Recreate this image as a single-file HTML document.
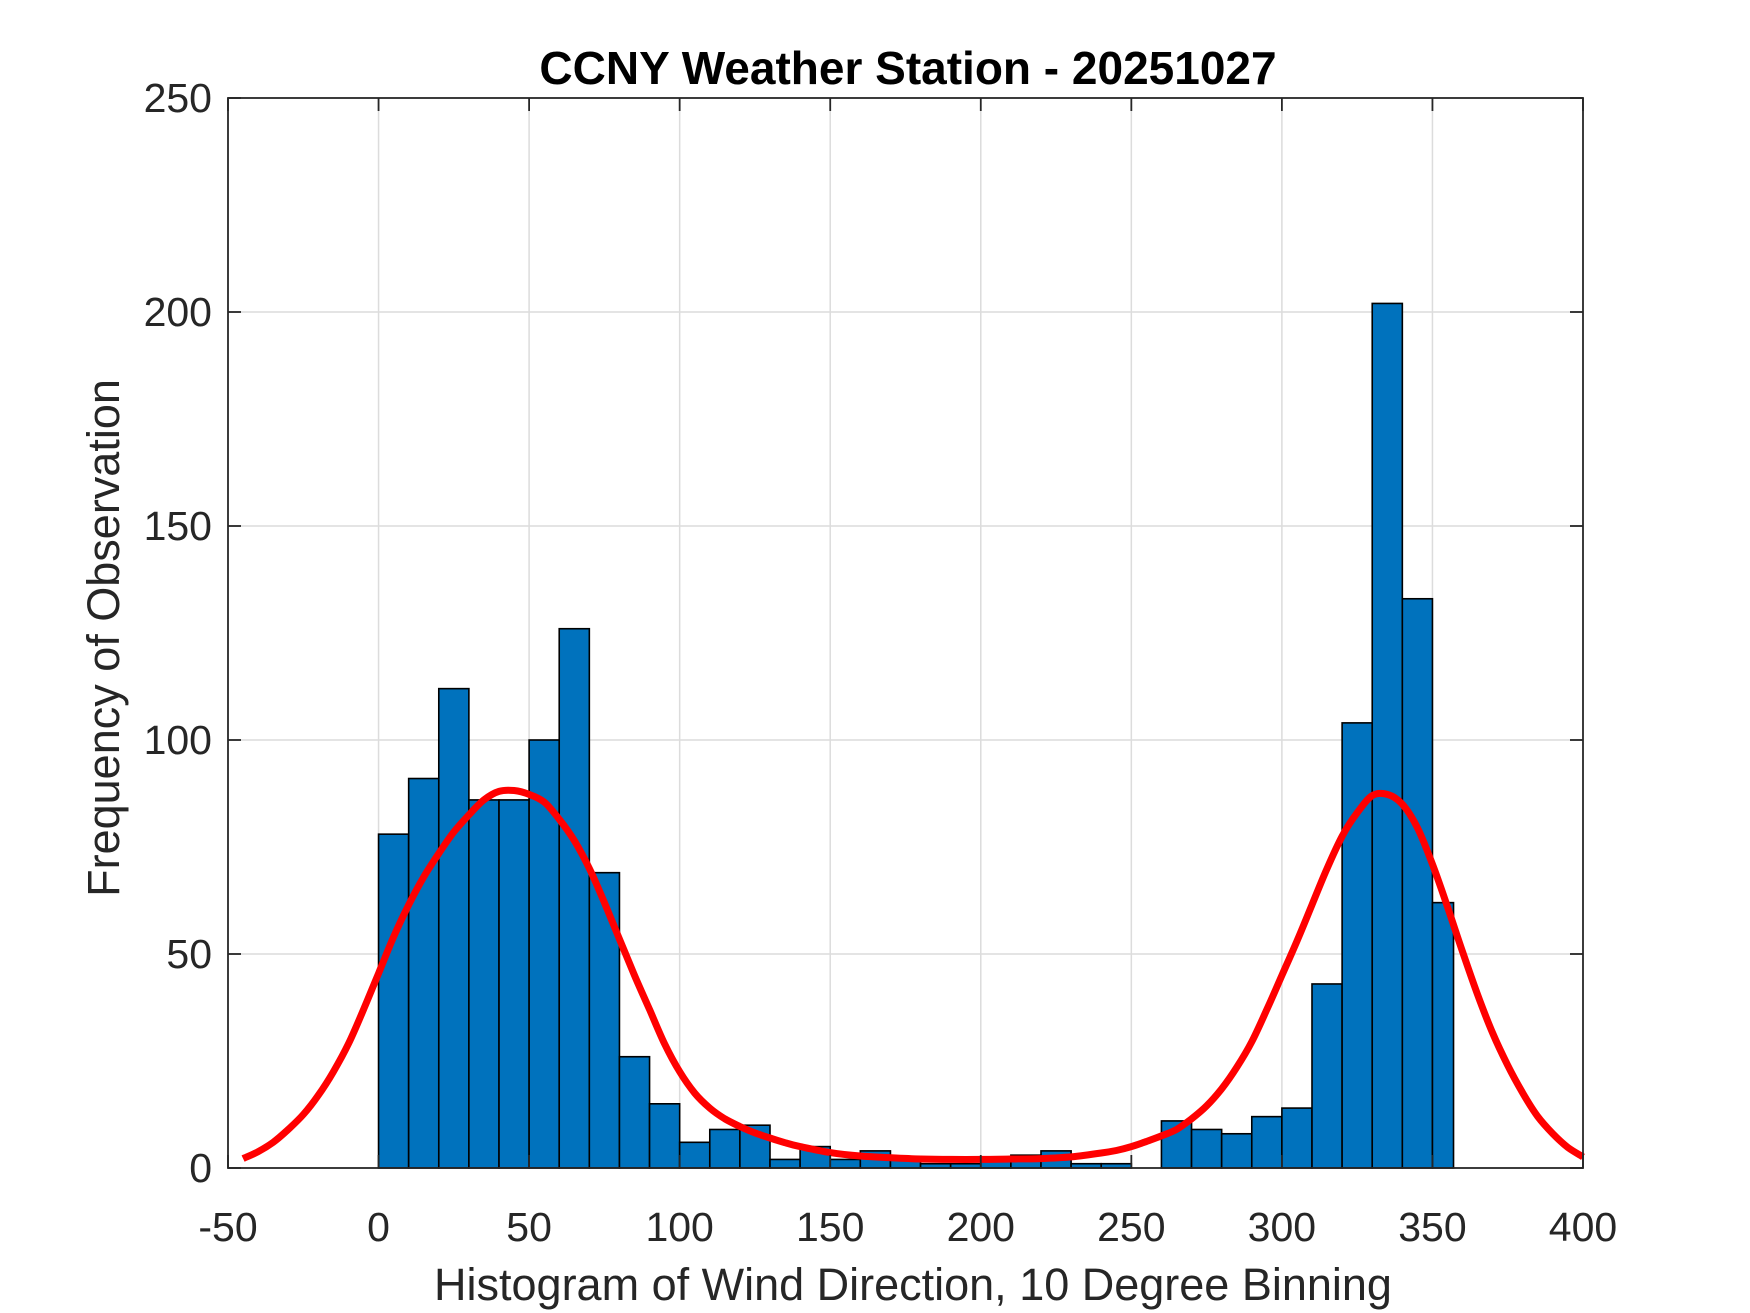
<!DOCTYPE html>
<html><head><meta charset="utf-8"><style>
html,body{margin:0;padding:0;background:#fff;}
svg{display:block;font-family:"Liberation Sans",Arial,sans-serif;}
</style></head><body>
<svg id="chart" width="1750" height="1313" viewBox="0 0 1750 1313" xmlns="http://www.w3.org/2000/svg">
<rect width="1750" height="1313" fill="#fff"/>
<g id="grid"></g>
<g id="bars"></g>
<g id="curve"></g>
<g id="axes"></g>
<text x="908" y="84" text-anchor="middle" font-size="46" font-weight="bold" fill="#000">CCNY Weather Station - 20251027</text>
<text x="913" y="1300" text-anchor="middle" font-size="45" fill="#262626">Histogram of Wind Direction, 10 Degree Binning</text>
<text transform="translate(119,638) rotate(-90)" text-anchor="middle" font-size="45" fill="#262626">Frequency of Observation</text>
</svg>
<script>
const binEdges = [0,10,20,30,40,50,60,70,80,90,100,110,120,130,140,150,160,170,180,190,200,210,220,230,240,250,260,270,280,290,300,310,320,330,340,350,357];
const binCounts = [78,91,112,86,86,100,126,69,26,15,6,9,10,2,5,2,4,2,1,1,2,3,4,1,1,0,11,9,8,12,14,43,104,202,133,62];
const curveX = [-45,-40,-35,-30,-25,-20,-15,-10,-5,0,5,10,15,20,25,30,35,40,45,50,55,60,65,70,75,80,85,90,95,100,105,110,115,120,125,130,135,140,150,160,170,180,190,200,210,220,230,240,245,250,255,260,265,270,275,280,285,290,295,300,305,310,315,320,325,330,335,340,345,350,355,360,365,370,375,380,385,390,395,400];
const curveY = [2.2,3.8,6,9,12.5,17,22.5,29,37,45.5,54,61.5,68,73.5,78.5,82.5,86,88,88.2,87.3,85.5,81.5,76.5,70,62,53.5,45,37,29,22.5,17.5,14,11.5,9.7,8.2,7,5.9,5,3.6,2.8,2.4,2.1,2,2,2.1,2.2,2.6,3.5,4.1,5,6.2,7.5,9,11.5,14.5,18.5,23.5,29.5,37,45,53,61.5,70,77.5,83,87,87.3,85,79.5,71,61,50.5,40.5,31.5,24,17.5,12,8,4.8,2.6];
const xTicks = [-50,0,50,100,150,200,250,300,350,400];
const yTicks = [0,50,100,150,200,250];

const L=228,R=1583,T=98,B=1168,XMIN=-50,XMAX=400,YMIN=0,YMAX=250;
const sx=v=>L+(v-XMIN)/(XMAX-XMIN)*(R-L);
const sy=v=>B-(v-YMIN)/(YMAX-YMIN)*(B-T);
const NS='http://www.w3.org/2000/svg';
function mk(tag,attrs,parent){const e=document.createElementNS(NS,tag);for(const k in attrs)e.setAttribute(k,attrs[k]);parent.appendChild(e);return e;}
const grid=document.getElementById('grid'),bars=document.getElementById('bars'),curve=document.getElementById('curve'),axes=document.getElementById('axes');

xTicks.forEach(t=>{
  if(t>XMIN&&t<XMAX){const g=mk('line',{x1:sx(t),x2:sx(t),y1:T,y2:B,stroke:'#dcdcdc','stroke-width':1.5},grid);
  
  }
});
yTicks.forEach(t=>{
  if(t>YMIN&&t<YMAX){const g=mk('line',{x1:L,x2:R,y1:sy(t),y2:sy(t),stroke:'#dcdcdc','stroke-width':1.5},grid);
  
  }
});

binCounts.forEach((c,i)=>{
  if(c<=0)return;
  const x0=sx(binEdges[i]),x1=sx(binEdges[i+1]);
  const r=mk('rect',{x:x0,y:sy(c),width:x1-x0,height:sy(0)-sy(c),fill:'#0072bd',stroke:'#000','stroke-width':1.6},bars);
  
  
});

const P=curveX.map((x,i)=>[sx(x),sy(curveY[i])]);
let d='M'+P[0][0].toFixed(1)+','+P[0][1].toFixed(1);
for(let i=0;i<P.length-1;i++){
  const p0=P[i-1]||P[i],p1=P[i],p2=P[i+1],p3=P[i+2]||P[i+1];
  const c1=[p1[0]+(p2[0]-p0[0])/6,p1[1]+(p2[1]-p0[1])/6];
  const c2=[p2[0]-(p3[0]-p1[0])/6,p2[1]-(p3[1]-p1[1])/6];
  d+=' C'+c1[0].toFixed(1)+','+c1[1].toFixed(1)+' '+c2[0].toFixed(1)+','+c2[1].toFixed(1)+' '+p2[0].toFixed(1)+','+p2[1].toFixed(1);
}
const pl=mk('path',{d:d,fill:'none',stroke:'#ff0000','stroke-width':7,'stroke-linejoin':'round','stroke-linecap':'butt'},curve);



const box=mk('rect',{x:L,y:T,width:R-L,height:B-T,fill:'none',stroke:'#262626','stroke-width':1.8},axes);


xTicks.forEach(t=>{
  const x=sx(t);
  mk('line',{x1:x,x2:x,y1:B,y2:B-13,stroke:'#262626','stroke-width':1.8},axes);
  mk('line',{x1:x,x2:x,y1:T,y2:T+13,stroke:'#262626','stroke-width':1.8},axes);
  const tx=mk('text',{x:x,y:1241,'text-anchor':'middle','font-size':41,fill:'#262626'},axes);
  tx.textContent=t;
  
  
});
yTicks.forEach(t=>{
  const y=sy(t);
  mk('line',{x1:L,x2:L+13,y1:y,y2:y,stroke:'#262626','stroke-width':1.8},axes);
  mk('line',{x1:R,x2:R-13,y1:y,y2:y,stroke:'#262626','stroke-width':1.8},axes);
  const tx=mk('text',{x:L-16,y:y+14,'text-anchor':'end','font-size':41,fill:'#262626'},axes);
  tx.textContent=t;
  
  
});
</script>
</body></html>
